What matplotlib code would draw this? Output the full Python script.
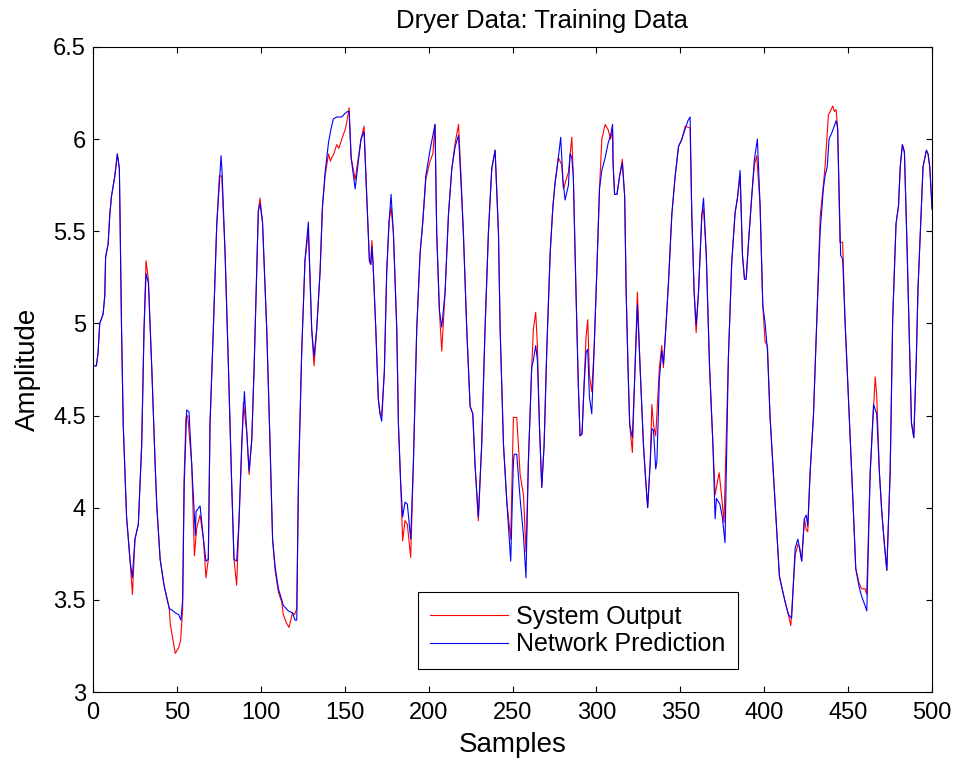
import numpy as np
import matplotlib
matplotlib.use("Agg")
import matplotlib.pyplot as plt

# values (sample, amplitude)
system_output = [
    (0, 4.77), (2, 4.77), (3, 4.84), (4, 5.0), (6, 5.05), (7, 5.15), (7.5, 5.36), (9, 5.43),
    (10, 5.59), (11, 5.69), (13, 5.80), (14.5, 5.92), (15.7, 5.84), (17, 4.97), (18, 4.45),
    (20, 3.95), (22, 3.72), (23.5, 3.53), (25, 3.83), (27, 3.91), (29, 4.34), (30.4, 4.97),
    (31.6, 5.34), (33, 5.24), (35, 4.76), (37, 4.24), (38, 4.01), (40, 3.72), (42.3, 3.58),
    (45.5, 3.45), (46, 3.37), (49, 3.21), (51, 3.24), (52.2, 3.28), (53.4, 3.45), (54.2, 4.14),
    (55.4, 4.49), (56.4, 4.50), (58.8, 4.24), (60.4, 3.74), (61.8, 3.89), (63.8, 3.96),
    (65.8, 3.83), (67.3, 3.62), (68.7, 3.72), (69.7, 4.45), (71.7, 4.97), (73.7, 5.53),
    (75.3, 5.80), (76.7, 5.80), (78.7, 5.38), (80.7, 4.76), (82.6, 4.14), (84, 3.72),
    (85.6, 3.58), (87, 3.93), (88.6, 4.34), (89.6, 4.57), (91.6, 4.41), (93, 4.18), (94.6, 4.37),
    (96, 4.76), (97.5, 5.28), (98.5, 5.61), (99.5, 5.68), (101, 5.55), (103.5, 4.97),
    (105.5, 4.34), (107, 3.83), (108.5, 3.66), (110.5, 3.54), (112.4, 3.49), (113.4, 3.42),
    (115, 3.38), (116.8, 3.35), (118.8, 3.43), (120, 3.42), (121.4, 3.45), (122.4, 4.14),
    (124.4, 4.86), (126.3, 5.34), (128.3, 5.50), (130.3, 4.97), (131.7, 4.77), (133.3, 4.97),
    (135.3, 5.28), (136.7, 5.63), (138.3, 5.80), (140.3, 5.92), (141.5, 5.88), (142.2, 5.90),
    (143.5, 5.92), (145.2, 5.97), (146.5, 5.95), (148.2, 6.00), (150.2, 6.05), (151.2, 6.09),
    (152.6, 6.17), (153.8, 5.90), (156.2, 5.78), (158.1, 5.90), (159.7, 6.00), (161.5, 6.07),
    (163.1, 5.69), (164.7, 5.34), (165.5, 5.32), (166.2, 5.45), (166.9, 5.32), (168.5, 4.97),
    (170, 4.59), (171, 4.51), (172, 4.50), (173.6, 4.74), (175, 5.28), (176.4, 5.55),
    (177.6, 5.63), (179, 5.49), (181, 4.97), (182, 4.45), (183.3, 4.14), (184.5, 3.82),
    (185.9, 3.93), (187.3, 3.91), (189.3, 3.73), (190.9, 4.24), (192.9, 4.97), (194.9, 5.38),
    (196.5, 5.55), (198.3, 5.78), (200.8, 5.88), (202.5, 5.92), (203.8, 6.08), (204.8, 5.49),
    (206.4, 5.07), (207.8, 4.85), (209.8, 5.17), (211.8, 5.59), (213.8, 5.84), (215.8, 5.98),
    (217.8, 6.08), (219.3, 5.80), (220.7, 5.49), (222.7, 4.97), (224.7, 4.55), (226.3, 4.51),
    (227.6, 4.24), (229.6, 3.93), (231.6, 4.34), (233.6, 4.97), (235.6, 5.49), (237.6, 5.84),
    (239.6, 5.94), (241.6, 5.49), (242.6, 4.97), (244.6, 4.34), (246.6, 4.03), (248.9, 3.83),
    (250.5, 4.49), (252.5, 4.49), (254.5, 4.18), (256.5, 4.07), (258, 3.76), (259.4, 4.24),
    (261.4, 4.76), (262.4, 4.97), (263.8, 5.06), (264.8, 4.88), (266, 4.45), (267.4, 4.11),
    (268.8, 4.34), (270.4, 4.86), (272.4, 5.38), (274, 5.63), (275.3, 5.76), (277.3, 5.90),
    (279.3, 5.86), (280.3, 5.73), (283.3, 5.82), (285.3, 6.01), (286.2, 5.80), (287.8, 5.17),
    (289.2, 4.66), (290.2, 4.39), (291.4, 4.40), (292.6, 4.66), (293.8, 4.93), (294.8, 5.02),
    (295.8, 4.72), (297.2, 4.63), (298.6, 4.86), (300.2, 5.28), (301.8, 5.73), (303.2, 6.00),
    (305.2, 6.08), (307, 6.05), (308.4, 6.00), (309.6, 6.05), (309.9, 5.87), (310.8, 5.70),
    (312.2, 5.70), (313.8, 5.80), (315.4, 5.89), (316.8, 5.69), (317.7, 5.17), (318.8, 4.76),
    (319.8, 4.45), (321.4, 4.30), (323, 4.76), (324.4, 5.17), (326, 4.76), (328, 4.34),
    (329.4, 4.14), (330.5, 4.00), (332, 4.24), (333, 4.56), (334, 4.45), (335.3, 4.39),
    (337.5, 4.76), (338.9, 4.88), (339.9, 4.76), (341.3, 4.97), (342.9, 5.22), (344.9, 5.59),
    (346.9, 5.80), (348.9, 5.96), (350.9, 6.00), (352.9, 6.07), (355.8, 6.06), (356.8, 5.59),
    (358.2, 5.17), (359.4, 4.95), (360.8, 5.17), (362.8, 5.59), (363.8, 5.62), (365.4, 5.38),
    (367.4, 4.76), (369.4, 4.34), (370.7, 4.07), (373.1, 4.19), (374.5, 4.07), (376, 3.92),
    (378.6, 4.81), (380.6, 5.33), (382.6, 5.60), (384, 5.68), (385.6, 5.80), (387, 5.37),
    (388.2, 5.24), (389.2, 5.24), (390.6, 5.44), (392.6, 5.70), (394.1, 5.86), (395.5, 5.91),
    (397.5, 5.64), (399.1, 5.10), (400.5, 4.90), (401.9, 4.88), (403.4, 4.50), (405.4, 4.19),
    (407.4, 3.88), (409, 3.63), (410.4, 3.57), (412.4, 3.49), (414.4, 3.42), (415.8, 3.36),
    (418.4, 3.74), (420, 3.80), (421, 3.79), (422.3, 3.71), (423.9, 3.94), (425, 3.88),
    (425.9, 3.87), (427.3, 4.19), (429.3, 4.50), (431.3, 5.02), (433.3, 5.58), (435.2, 5.75),
    (436.2, 5.85), (438.2, 6.13), (440.8, 6.18), (441.8, 6.15), (442.8, 6.16), (443.7, 6.06),
    (445.1, 5.44), (446.7, 5.44), (448.1, 5.02), (451.1, 4.40), (453.1, 3.98), (454.5, 3.67),
    (456.5, 3.59), (458, 3.56), (460.1, 3.56), (461, 3.53), (463.1, 4.19), (466.1, 4.71),
    (467, 4.61), (468.6, 4.19), (470, 3.98), (471.4, 3.82), (473, 3.66), (475, 4.19),
    (476.5, 5.02), (478.5, 5.54), (480, 5.64), (481, 5.85), (482.3, 5.97), (483.5, 5.93),
    (485, 5.44), (486.4, 4.92), (487.7, 4.46), (489.1, 4.38), (490.6, 4.81), (491.6, 5.19),
    (493, 5.50), (494.6, 5.85), (496.6, 5.94), (497.6, 5.92), (498.6, 5.85), (500, 5.62),
]

network_prediction = [
    (0, 4.77), (2, 4.77), (3, 4.84), (4, 5.0), (6, 5.05), (7, 5.15), (7.5, 5.36), (9, 5.43),
    (10, 5.59), (11, 5.69), (13, 5.80), (14.5, 5.92), (15.7, 5.84), (17, 4.97), (18, 4.45),
    (20, 3.95), (22, 3.72), (23.4, 3.62), (25, 3.83), (27, 3.91), (29, 4.34), (30.4, 4.97),
    (31.6, 5.27), (33, 5.22), (35, 4.76), (37, 4.24), (38, 4.01), (40, 3.72), (42.3, 3.58),
    (45.5, 3.45), (46.3, 3.45), (49, 3.43), (51, 3.42), (52.4, 3.39), (53.4, 3.50), (54.4, 4.14),
    (55.8, 4.53), (57.2, 4.52), (58.8, 4.24), (61, 3.85), (61.4, 3.98), (63.8, 4.01),
    (65.8, 3.83), (67.3, 3.71), (68.7, 3.72), (69.7, 4.45), (71.7, 4.97), (73.7, 5.53),
    (76.3, 5.91), (76.9, 5.82), (78.7, 5.38), (80.7, 4.76), (82.6, 4.14), (84, 3.72),
    (85.6, 3.71), (87, 3.93), (88.6, 4.34), (90.2, 4.63), (91.6, 4.41), (93, 4.20), (94.6, 4.37),
    (96, 4.76), (97.5, 5.28), (98.5, 5.61), (99.5, 5.65), (101, 5.55), (103.5, 4.97),
    (105.5, 4.34), (107, 3.83), (108.5, 3.68), (110.5, 3.56), (112.4, 3.50), (113.4, 3.47),
    (116.4, 3.44), (118.8, 3.43), (120.4, 3.39), (121.4, 3.39), (122.4, 4.14), (124.4, 4.86),
    (126.3, 5.34), (128.3, 5.55), (130.3, 4.97), (131.7, 4.82), (133.3, 4.97), (135.3, 5.28),
    (136.7, 5.63), (138.3, 5.82), (140.3, 5.98), (141.7, 6.05), (143.2, 6.11), (145.2, 6.12),
    (148.2, 6.12), (150.2, 6.14), (151.6, 6.15), (152.6, 6.15), (153.8, 5.90), (156.2, 5.73),
    (158.1, 5.88), (159.7, 6.00), (161.5, 6.04), (163.1, 5.69), (164.7, 5.34), (165.5, 5.32),
    (166.2, 5.42), (166.9, 5.32), (168.5, 4.97), (170, 4.59), (171, 4.51), (172, 4.47),
    (173.6, 4.74), (175, 5.28), (176.4, 5.55), (177.6, 5.70), (179, 5.49), (181, 4.97),
    (182, 4.45), (183.3, 4.14), (184.5, 3.95), (185.9, 4.03), (187.3, 4.02), (189.3, 3.83),
    (190.9, 4.24), (192.9, 4.97), (194.9, 5.38), (196.5, 5.55), (198.3, 5.80), (200.8, 5.94),
    (203.8, 6.08), (204.8, 5.49), (206.4, 5.07), (207.8, 4.98), (209.8, 5.17), (211.8, 5.59),
    (213.8, 5.84), (215.8, 5.96), (217.8, 6.02), (219.3, 5.76), (220.7, 5.49), (222.7, 4.97),
    (224.7, 4.55), (226.3, 4.51), (227.6, 4.24), (229.6, 3.95), (231.6, 4.34), (233.6, 4.97),
    (235.6, 5.49), (237.6, 5.84), (239.6, 5.94), (241.6, 5.49), (242.6, 4.97), (244.6, 4.34),
    (246.6, 4.03), (248.9, 3.71), (250.5, 4.25), (251, 4.29), (252.5, 4.29), (254.5, 4.05),
    (256.5, 3.85), (258, 3.62), (259.4, 4.24), (261.4, 4.76), (262.4, 4.80), (263.8, 4.88),
    (264.8, 4.80), (266, 4.45), (267.4, 4.11), (268.8, 4.34), (270.4, 4.86), (272.4, 5.38),
    (274, 5.63), (275.3, 5.76), (277.3, 5.90), (278.7, 6.01), (280, 5.78), (281.3, 5.67),
    (283.3, 5.75), (284.3, 5.92), (285.3, 5.90), (286.2, 5.80), (287.8, 5.17), (289.2, 4.66),
    (290.2, 4.39), (291.4, 4.40), (292.6, 4.66), (293.8, 4.84), (294.8, 4.86), (295.8, 4.60),
    (297.2, 4.51), (298.6, 4.86), (300.2, 5.28), (301.8, 5.73), (303.2, 5.83), (305.2, 5.90),
    (307, 5.98), (308.4, 6.02), (309.6, 6.08), (309.9, 5.87), (310.8, 5.70), (312.2, 5.70),
    (313.8, 5.80), (315.4, 5.87), (316.8, 5.69), (317.7, 5.17), (318.8, 4.76), (319.8, 4.45),
    (321.4, 4.38), (323, 4.76), (324.4, 5.10), (326, 4.76), (328, 4.34), (329.4, 4.14),
    (330.5, 4.00), (332, 4.24), (333, 4.43), (334, 4.42), (335.3, 4.21), (336, 4.25),
    (337.5, 4.70), (338.9, 4.85), (339.9, 4.78), (341.3, 4.97), (342.9, 5.22), (344.9, 5.59),
    (346.9, 5.80), (348.9, 5.96), (350.9, 6.00), (353, 6.06), (354.5, 6.10), (355.8, 6.12),
    (356.8, 5.59), (358.2, 5.17), (359.4, 4.99), (360.8, 5.17), (362.8, 5.59), (363.8, 5.68),
    (365.4, 5.38), (367.4, 4.76), (369.4, 4.34), (370.7, 3.94), (371.5, 4.05), (373.5, 4.02),
    (375, 3.95), (376.6, 3.81), (378.6, 4.81), (380.6, 5.33), (382.6, 5.60), (384, 5.68),
    (385.6, 5.83), (387, 5.37), (388.2, 5.24), (389.2, 5.24), (390.6, 5.44), (392.6, 5.70),
    (394.1, 5.89), (395.9, 6.00), (397.5, 5.64), (399.1, 5.10), (400.5, 5.00), (401.9, 4.85),
    (403.4, 4.50), (405.4, 4.19), (407.4, 3.88), (409, 3.63), (410.4, 3.57), (412.4, 3.49),
    (414.4, 3.42), (416.3, 3.40), (418.4, 3.78), (420, 3.83), (421, 3.78), (422.3, 3.71),
    (423.9, 3.94), (425, 3.96), (425.9, 3.90), (427.3, 4.19), (429.3, 4.50), (431.3, 5.02),
    (433.3, 5.50), (435.2, 5.73), (436.2, 5.80), (437.5, 5.85), (438.6, 6.00), (440.5, 6.04),
    (442.8, 6.10), (443.7, 6.06), (445.5, 5.37), (446.7, 5.35), (448.1, 5.02), (451.1, 4.40),
    (453.1, 3.98), (454.5, 3.67), (456.5, 3.57), (458, 3.52), (460, 3.47), (461.1, 3.44),
    (463.1, 4.19), (465.1, 4.56), (467, 4.51), (468.6, 4.19), (470, 3.98), (471.4, 3.82),
    (473, 3.66), (475, 4.19), (476.5, 5.02), (478.5, 5.54), (480, 5.64), (481, 5.85),
    (482.3, 5.97), (483.5, 5.93), (485, 5.44), (486.4, 4.92), (487.7, 4.46), (489.1, 4.38),
    (490.6, 4.81), (491.6, 5.19), (493, 5.50), (494.6, 5.85), (496.6, 5.94), (497.6, 5.92),
    (498.6, 5.85), (500, 5.62),
]

x_ticks = [0, 50, 100, 150, 200, 250, 300, 350, 400, 450, 500]
y_ticks = [3, 3.5, 4, 4.5, 5, 5.5, 6, 6.5]
y_tick_labels = ['3', '3.5', '4', '4.5', '5', '5.5', '6', '6.5']

plt.rcParams['font.family'] = ['Liberation Sans', 'DejaVu Sans']

fig = plt.figure(figsize=(9.56, 7.65), dpi=100)
ax = fig.add_axes([0.0973, 0.0954, 0.8777, 0.8432])

sx, sy = np.array(system_output).T
px, py = np.array(network_prediction).T
ax.plot(sx, sy, color='red', lw=0.8, label='System Output')
ax.plot(px, py, color='blue', lw=0.8, label='Network Prediction')

ax.set_xlim(0, 500)
ax.set_ylim(3, 6.5)
ax.set_xticks(x_ticks)
ax.set_yticks(y_ticks)
ax.set_yticklabels(y_tick_labels)
ax.tick_params(direction='in', top=True, right=True, length=4, width=0.8,
               labelsize=17)
ax.tick_params(axis='x', pad=7)
ax.tick_params(axis='y', pad=5)
for sp in ax.spines.values():
    sp.set_linewidth(0.8)

# title sits a little right of centre in the reference
ax.set_title('Dryer Data: Training Data', fontsize=18.5, pad=14, x=0.535)
ax.set_xlabel('Samples', fontsize=20, labelpad=6)
ax.set_ylabel('Amplitude', fontsize=20, labelpad=9)

leg = ax.legend(loc='upper left', bbox_to_anchor=(0.387, 0.155), fontsize=18,
                handlelength=3.1, handletextpad=0.35, fancybox=False, framealpha=1,
                edgecolor='black', borderaxespad=0, labelspacing=0.15, borderpad=0.5)
leg.get_frame().set_linewidth(0.8)

fig.savefig('out.png', dpi=100)
